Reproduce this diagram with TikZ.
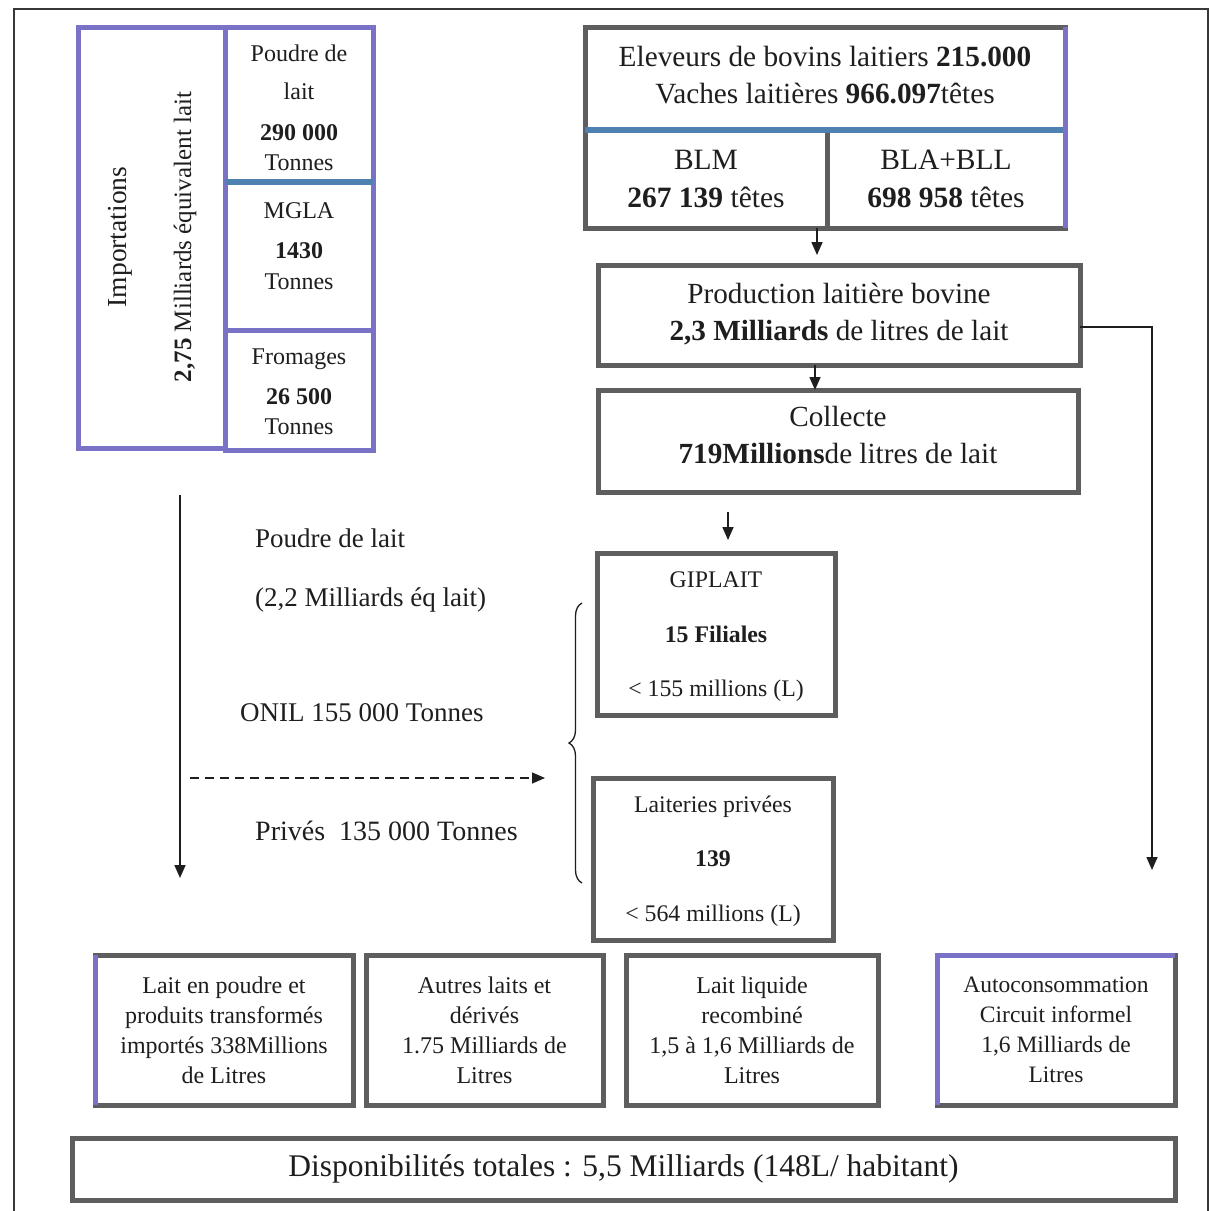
\documentclass[tikz,border=0pt]{standalone}
\usepackage{fontspec}
\setmainfont{Liberation Serif}
\usetikzlibrary{arrows.meta,decorations.pathreplacing,calc}
\definecolor{bgray}{HTML}{5E5E5E}
\definecolor{bpurp}{HTML}{7A72C6}
\definecolor{bblue}{HTML}{4F80B2}
\definecolor{ink}{HTML}{1E1E1E}
\begin{document}
\begin{tikzpicture}[x=1pt,y=-1pt,
  box/.style={draw=bgray, line width=5pt, rectangle, inner sep=0pt, outer sep=0pt, align=center, text=ink},
  lt/.style={anchor=base, inner sep=0pt, text=ink, font=\fontsize{24}{28}\selectfont},
  lab/.style={anchor=base west, inner sep=0pt, text=ink, font=\fontsize{27}{32}\selectfont},
  mtxt/.style={inner sep=0pt, align=center, text=ink, font=\fontsize{23.8}{54.5}\selectfont},
  arr/.style={draw=ink, line width=1.6pt, -{Triangle[length=13pt,width=11pt]}}]
\useasboundingbox (0,0) rectangle (1210,1211);
\fill[white] (0,0) rectangle (1210,1211);
% page frame
\draw[bgray!60!black, line width=1.6pt] (14,1211) -- (14,9) -- (1208,9) -- (1208,1211);

% ---------- imports block ----------
\node[box, draw=bpurp, minimum width=147pt, minimum height=421pt] (imp) at (151.5,237.5) {};
\node[box, draw=bpurp, minimum width=148pt, minimum height=155pt] (pdl) at (299,104.5) {};
\node[box, draw=bpurp, minimum width=148pt, minimum height=148pt] (mgla) at (299,256) {};
\node[box, draw=bpurp, minimum width=148pt, minimum height=120pt] (from) at (299,390) {};
\draw[bblue, line width=5.5pt] (pdl.south west) -- (pdl.south east);
\node[rotate=90, inner sep=0pt, text=ink, font=\fontsize{27.5}{30}\selectfont] (impt) at (120,237) {Importations};
\node[rotate=90, inner sep=0pt, text=ink, font=\fontsize{25}{30}\selectfont] (impv) at (185,237) {\textbf{2,75} Milliards équivalent lait};
\node[lt] (p1) at (299,61) {Poudre de};
\node[lt] (p2) at (299,99) {lait};
\node[lt] (p3) at (299,140) {\textbf{290 000}};
\node[lt] (p4) at (299,170) {Tonnes};
\node[lt] (m1) at (299,218) {MGLA};
\node[lt] (m2) at (299,258) {\textbf{1430}};
\node[lt] (m3) at (299,289) {Tonnes};
\node[lt] (f1) at (299,364) {Fromages};
\node[lt] (f2) at (299,404) {\textbf{26 500}};
\node[lt] (f3) at (299,434) {Tonnes};

% ---------- production chain ----------
\node[box, minimum width=480pt, minimum height=103pt, text depth=8pt, font=\fontsize{29.3}{37}\selectfont] (elev) at (825,78.5)
  {Eleveurs de bovins laitiers \textbf{215.000}\\Vaches laitières \textbf{966.097}têtes};
\node[box, minimum width=242pt, minimum height=98pt, font=\fontsize{29.5}{38}\selectfont] (blm) at (706,179)
  {BLM\\\textbf{267 139} têtes};
\node[box, minimum width=238pt, minimum height=98pt, font=\fontsize{29.5}{38}\selectfont] (bla) at (946,179)
  {BLA+BLL\\\textbf{698 958} têtes};
\draw[bblue, line width=6pt] (elev.south west) -- (elev.south east);
\draw[bpurp, line width=5pt] (elev.north east) -- (bla.south east);

\node[box, minimum width=482pt, minimum height=100pt, text depth=6pt, font=\fontsize{29.2}{37}\selectfont] (prod) at (839,315)
  {Production laitière bovine\\\textbf{2,3 Milliards} de litres de lait};
\node[box, minimum width=480pt, minimum height=102pt, text depth=12pt, font=\fontsize{29.2}{37}\selectfont] (coll) at (838,441)
  {Collecte\\\textbf{719Millions}de litres de lait};
\node[box, minimum width=238pt, minimum height=162pt] (gip) at (716,634) {};
\node[mtxt] (gipt) at (716,637) {GIPLAIT\\\textbf{15 Filiales}\\< 155 millions (L)};
\node[box, minimum width=240pt, minimum height=162pt] (lait) at (713,859) {};
\node[mtxt] (laitt) at (713,861) {Laiteries privées\\\textbf{139}\\< 564 millions (L)};

% ---------- bottom boxes ----------
\node[box, minimum width=258pt, minimum height=150pt, font=\fontsize{24}{30}\selectfont] (b1) at (224,1030)
  {Lait en poudre et\\produits transformés\\importés 338Millions\\de Litres};
\node[box, minimum width=237pt, minimum height=150pt, font=\fontsize{24}{30}\selectfont] (b2) at (484.5,1030)
  {Autres laits et\\dérivés\\1.75 Milliards de\\Litres};
\node[box, minimum width=252pt, minimum height=150pt, font=\fontsize{24}{30}\selectfont] (b3) at (752,1030)
  {Lait liquide\\recombiné\\1,5 à 1,6 Milliards de\\Litres};
\node[box, minimum width=238pt, minimum height=150pt, font=\fontsize{23.5}{30}\selectfont] (b4) at (1056,1030)
  {Autoconsommation\\Circuit informel\\1,6 Milliards de\\Litres};
\draw[bpurp, line width=5pt] (b1.south west) -- (b1.north west);
\draw[bpurp, line width=5pt] (b4.south west) -- (b4.north west) -- (b4.north east);
\node[box, minimum width=1103pt, minimum height=62pt, font=\fontsize{31.5}{34}\selectfont] (disp) at (623.5,1169)
  {Disponibilités totales : 5,5 Milliards (148L/ habitant)};

% ---------- labels ----------
\node[lab] (l1) at (255,547) {Poudre de lait};
\node[lab] (l2) at (255,606) {(2,2 Milliards éq lait)};
\node[lab] (l3) at (240,721) {ONIL 155 000 Tonnes};
\node[lab, font=\fontsize{28}{32}\selectfont] (l4) at (255,840) {Privés\hspace{14pt}135 000 Tonnes};

% ---------- connectors ----------
\coordinate (ec) at (817,0);
\coordinate (pc) at (815,0);
\coordinate (cg) at (728,0);
\draw[arr, shorten >=10pt] (blm.south -| ec) -- (prod.north -| ec);
\draw[arr] (prod.south -| pc) -- (coll.north -| pc);
\draw[arr, shorten <=20pt, shorten >=13pt] (coll.south -| cg) -- (gip.north -| cg);
\coordinate (rd) at (1152,870);
\draw[arr] ([yshift=-12pt]prod.east) -| (rd);
\coordinate (la1) at (180,495);
\coordinate (la2) at (180,878);
\draw[arr] (la1) -- (la2);
\coordinate (da1) at (190,778);
\coordinate (da2) at (545,778);
\draw[arr, line width=1.3pt, dash pattern=on 9pt off 6pt] (da1) -- (da2);
\coordinate (br1) at (582,883);
\coordinate (br2) at (582,603);
\draw[ink, line width=1.3pt, decorate, decoration={brace, amplitude=13pt}] (br1) -- (br2);
\end{tikzpicture}
\end{document}
